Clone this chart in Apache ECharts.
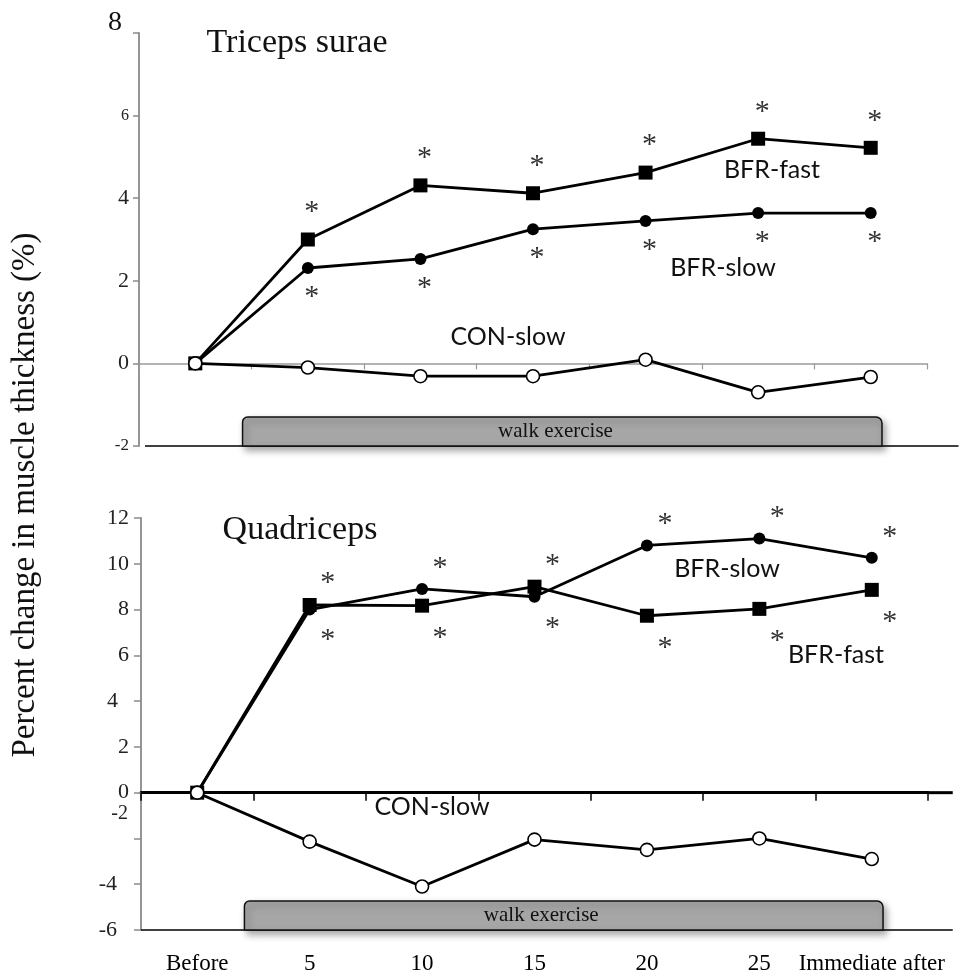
<!DOCTYPE html>
<html><head><meta charset="utf-8">
<script src="https://cdn.jsdelivr.net/npm/echarts@6/dist/echarts.min.js"></script>
<style>html,body{margin:0;padding:0;background:#fff}#c{width:963px;height:974px}</style>
</head><body><div id="c"></div>
<script>
// ---- data ----
const categories = ['Before', '5', '10', '15', '20', '25', 'Immediate after'];
const tricepsBFRfast = [0, 3.0, 4.31, 4.12, 4.62, 5.44, 5.22];
const tricepsBFRslow = [0, 2.31, 2.53, 3.25, 3.45, 3.64, 3.64];
const tricepsCONslow = [0, -0.1, -0.31, -0.31, 0.09, -0.7, -0.33];
const quadBFRfast = [0, 8.2, 8.17, 9.0, 7.73, 8.03, 8.86];
const quadBFRslow = [0, 8.0, 8.9, 8.56, 10.8, 11.1, 10.26];
const quadCONslow = [0, -2.14, -4.1, -2.05, -2.5, -2.0, -2.9];
const tricepsTicks = [-2, 0, 2, 4, 6, 8];
const quadTicks = [-6, -4, -2, 0, 2, 4, 6, 8, 10, 12];
const walkSpan = [[0.42, 6.1]];  // walk exercise period, in category units

const SERIF = '"Liberation Serif", "Times New Roman", serif';
const SANS = 'Lato, "Noto Sans", sans-serif';

const chart = echarts.init(document.getElementById('c'), null, {renderer: 'canvas'});

function starLabels(values, other, cfg) {
  return values.map((v, i) => {
    if (i === 0) return v;
    const higher = v >= other[i];
    return {
      value: v,
      label: {
        show: true, formatter: '*', position: higher ? 'top' : 'bottom',
        distance: higher ? cfg.up : cfg.down, offset: [cfg.dx, 0],
        fontFamily: SERIF, fontSize: 30, color: '#333'
      }
    };
  });
}

function lineSeries(name, data, xi, yi, kind) {
  const base = {
    name, type: 'line', data, xAxisIndex: xi, yAxisIndex: yi,
    lineStyle: {color: '#000', width: 2.8}, silent: true, z: 3
  };
  if (kind === 'square') {
    base.symbol = 'rect'; base.symbolSize = 14;
    base.itemStyle = {color: '#000', borderColor: '#000', borderWidth: 0};
  } else if (kind === 'dot') {
    base.symbol = 'circle'; base.symbolSize = 12;
    base.itemStyle = {color: '#000', borderColor: '#000', borderWidth: 0};
  } else {
    base.symbol = 'circle'; base.symbolSize = 13;
    base.itemStyle = {color: '#fff', borderColor: '#000', borderWidth: 1.6};
    base.z = 4;
  }
  return base;
}

function walkSeries(xi, yi, yBase, lineFrom, lineTo, zeroExt, textAt) {
  return {
    type: 'custom', xAxisIndex: xi, yAxisIndex: yi, data: walkSpan, clip: false, z: 1, silent: true,
    renderItem: function (params, api) {
      const a = api.coord([api.value(0), yBase]);
      const b = api.coord([api.value(1), yBase]);
      const l0 = api.coord([lineFrom, yBase]);
      const l1 = api.coord([lineTo, yBase]);
      const t = api.coord([textAt, yBase]);
      const h = 29;
      const children = [
        {type: 'line', shape: {x1: l0[0], y1: l0[1], x2: l1[0], y2: l1[1]}, style: {stroke: '#000', lineWidth: 1.6}},
        {type: 'rect', shape: {x: a[0], y: a[1] - h, width: b[0] - a[0], height: h, r: [5, 6, 0, 0]},
          style: {fill: '#a6a6a6', stroke: '#111', lineWidth: 1.5, shadowBlur: 7, shadowOffsetX: 3, shadowOffsetY: 4, shadowColor: 'rgba(0,0,0,0.35)'}},
        {type: 'text', style: {text: 'walk exercise', x: t[0], y: a[1] - h / 2, align: 'center', verticalAlign: 'middle',
          font: '21px ' + SERIF, fill: '#111'}}
      ];
      if (zeroExt) {
        const z0 = api.coord([6.5, 0]);
        const z1 = api.coord([zeroExt, 0]);
        children.push({type: 'line', shape: {x1: z0[0], y1: z0[1], x2: z1[0], y2: z1[1]}, style: {stroke: '#000', lineWidth: 3}});
      }
      return {type: 'group', children};
    }
  };
}

const option = {
  animation: false,
  backgroundColor: '#fff',
  textStyle: {fontFamily: SERIF},
  grid: [
    {left: 139, right: 36, top: 33, height: 413, outerBoundsMode: 'none'},
    {left: 141, right: 35, top: 518, height: 412, outerBoundsMode: 'none'}
  ],
  xAxis: [
    {gridIndex: 0, type: 'category', data: categories, position: 'bottom',
      axisLine: {onZero: true, lineStyle: {color: '#9a9a9a', width: 1.5}},
      axisTick: {show: true, length: 6, interval: 0, lineStyle: {color: '#9a9a9a', width: 1.2}},
      axisLabel: {show: false}, splitLine: {show: false}},
    {gridIndex: 0, type: 'value', min: -0.5, max: 6.5, show: false},
    {gridIndex: 1, type: 'category', data: categories, position: 'bottom',
      axisLine: {onZero: true, lineStyle: {color: '#000', width: 3}},
      axisTick: {show: true, length: 8, interval: 0, lineStyle: {color: '#000', width: 1.5}},
      axisLabel: {show: false}, splitLine: {show: false}},
    {gridIndex: 1, type: 'value', min: -0.5, max: 6.5, show: false},
    {gridIndex: 1, type: 'category', data: categories, position: 'bottom', offset: 0,
      axisLine: {show: false, onZero: false}, axisTick: {show: false},
      axisLabel: {show: true, interval: 0, margin: 22, fontFamily: SERIF, fontSize: 23, color: '#000'}, splitLine: {show: false}}
  ],
  yAxis: [
    {gridIndex: 0, type: 'value', min: tricepsTicks[0], max: tricepsTicks[tricepsTicks.length - 1], interval: 2,
      axisLine: {show: true, onZero: false, lineStyle: {color: '#8a8a8a', width: 1.8}},
      axisTick: {show: true, length: 6, lineStyle: {color: '#8a8a8a', width: 1.5}},
      splitLine: {show: false},
      axisLabel: {margin: 10, color: '#222',
        formatter: v => v === 8 ? '{big|8}' : (v === 6 ? '{sm|6}' : (v === -2 ? '{sm2|-2}' : '{n|' + v + '}')),
        rich: {
          big: {fontSize: 28, fontFamily: SERIF, color: '#111', padding: [0, 7, 20, 0]},
          sm: {fontSize: 16, fontFamily: SERIF, color: '#222'},
          sm2: {fontSize: 17, fontFamily: SERIF, color: '#222'},
          n: {fontSize: 22, fontFamily: SERIF, color: '#222'}
        }}},
    {gridIndex: 1, type: 'value', min: quadTicks[0], max: quadTicks[quadTicks.length - 1], interval: 2,
      axisLine: {show: true, onZero: false, lineStyle: {color: '#8a8a8a', width: 1.8}},
      axisTick: {show: true, length: 7, lineStyle: {color: '#8a8a8a', width: 1.5}},
      splitLine: {show: false},
      axisLabel: {margin: 12, color: '#222',
        formatter: v => v === -2 ? '{up|-2}' : ((v === -4 || v === -6) ? '{l|' + v + '}' : (v === 4 ? '{f|4}' : '{n|' + v + '}')),
        rich: {
          up: {fontSize: 20, fontFamily: SERIF, color: '#222', padding: [0, 1, 50, 0]},
          l: {fontSize: 22, fontFamily: SERIF, color: '#222', padding: [0, 12, 0, 0]},
          f: {fontSize: 22, fontFamily: SERIF, color: '#222', padding: [0, 11, 0, 0]},
          n: {fontSize: 22, fontFamily: SERIF, color: '#222'}
        }}}
  ],
  series: [
    walkSeries(1, 0, -2, -0.447, 6.78, null, 3.2),
    walkSeries(3, 1, -6, -0.5, 6.72, 6.72, 3.06),
    lineSeries('BFR-fast', starLabels(tricepsBFRfast, tricepsBFRslow, {up: 5, down: 8, dx: 4}), 0, 0, 'square'),
    lineSeries('BFR-slow', starLabels(tricepsBFRslow, tricepsBFRfast, {up: 5, down: 8, dx: 4}), 0, 0, 'dot'),
    lineSeries('CON-slow', tricepsCONslow, 0, 0, 'open'),
    lineSeries('BFR-fast', starLabels(quadBFRfast, quadBFRslow, {up: 0, down: 10, dx: 18}), 2, 1, 'square'),
    lineSeries('BFR-slow', starLabels(quadBFRslow, quadBFRfast, {up: 0, down: 10, dx: 18}), 2, 1, 'dot'),
    lineSeries('CON-slow', quadCONslow, 2, 1, 'open')
  ],
  graphic: [
    {type: 'text', x: 297, y: 43, style: {text: 'Triceps surae', font: '34px ' + SERIF, fill: '#111', align: 'center', verticalAlign: 'middle'}},
    {type: 'text', x: 300, y: 530, style: {text: 'Quadriceps', font: '34px ' + SERIF, fill: '#111', align: 'center', verticalAlign: 'middle'}},
    {type: 'text', x: 25, y: 495, rotation: Math.PI / 2, style: {text: 'Percent change in muscle thickness (%)', font: '33px ' + SERIF, fill: '#111', align: 'center', verticalAlign: 'middle'}},
    {type: 'text', x: 772, y: 170, style: {text: 'BFR-fast', font: '25px ' + SANS, fill: '#111', align: 'center', verticalAlign: 'middle'}},
    {type: 'text', x: 723, y: 268, style: {text: 'BFR-slow', font: '25px ' + SANS, fill: '#111', align: 'center', verticalAlign: 'middle'}},
    {type: 'text', x: 508, y: 337, style: {text: 'CON-slow', font: '25px ' + SANS, fill: '#111', align: 'center', verticalAlign: 'middle'}},
    {type: 'text', x: 727, y: 569, style: {text: 'BFR-slow', font: '25px ' + SANS, fill: '#111', align: 'center', verticalAlign: 'middle'}},
    {type: 'text', x: 836, y: 655, style: {text: 'BFR-fast', font: '25px ' + SANS, fill: '#111', align: 'center', verticalAlign: 'middle'}},
    {type: 'text', x: 432, y: 807, style: {text: 'CON-slow', font: '25px ' + SANS, fill: '#111', align: 'center', verticalAlign: 'middle'}}
  ]
};
chart.setOption(option);
</script>
</body></html>
